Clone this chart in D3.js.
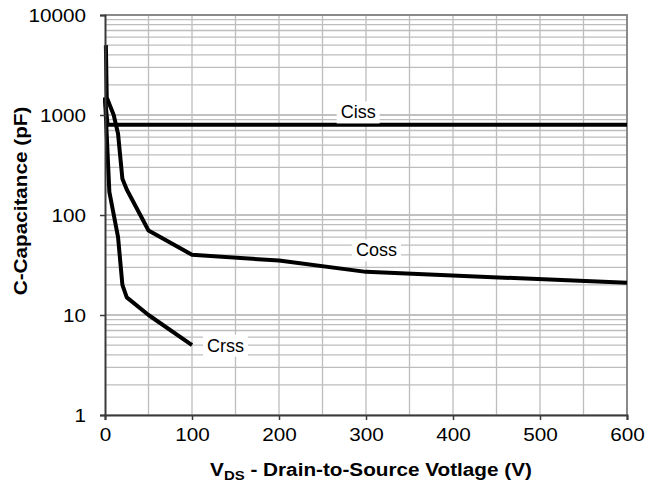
<!DOCTYPE html>
<html>
<head>
<meta charset="utf-8">
<script src="https://cdn.jsdelivr.net/npm/d3@7"></script>
<style>
  body { margin: 0; background: #fff; }
  text { font-family: "Liberation Sans", Arial, sans-serif; }
</style>
</head>
<body>
<div id="chart"></div>
<script>
(function () {
    'use strict';
    var w = 646;
    var h = 489;

    // capacitance curves, [V, pF]
    var ciss = [[0, 1450], [3, 800], [600, 800]];
    var coss = [[1, 5000], [2, 1500], [10, 1000], [15, 650], [20, 230], [25, 180],
                [50, 70], [100, 40], [200, 35], [300, 27], [600, 21]];
    var crss = [[0, 1500], [5, 170], [15, 60], [20, 20], [25, 15], [50, 10], [100, 5]];

    var seriesNames = ["Ciss", "Coss", "Crss"];
    var labelAt = [[291, 1072], [312, 44.7], [138.5, 5.0]];

    var xTicks = [0, 100, 200, 300, 400, 500, 600];
    var yTicks = [1, 10, 100, 1000, 10000];

    var margin = {top: 15, right: 19, bottom: 74, left: 105};
    var iw = w - margin.left - margin.right;
    var ih = h - margin.top - margin.bottom;

    var x = d3.scaleLinear().domain([0, 600]).range([0, iw]);
    var y = d3.scaleLog().domain([1, 10000]).range([ih, 0]);

    var svg = d3.select("#chart").append("svg")
        .attr("width", w)
        .attr("height", h);

    var g = svg.append("g")
        .attr("transform", "translate(" + margin.left + "," + margin.top + ")");

    // horizontal grid, minor 2..9 for each decade
    var yGrid = [];
    yTicks.slice(0, -1).forEach(function (d) {
        for (var k = 1; k <= 10; k++) { yGrid.push(d * k); }
    });
    g.selectAll("line.hg").data(yGrid).enter().append("line")
        .attr("class", "hg")
        .attr("x1", 0).attr("x2", iw)
        .attr("y1", function (d) { return y(d); })
        .attr("y2", function (d) { return y(d); })
        .attr("stroke", "#bdbdbd")
        .attr("stroke-width", 1.3);

    // vertical grid every 50 V
    g.selectAll("line.vg").data(d3.range(50, 601, 50)).enter().append("line")
        .attr("class", "vg")
        .attr("y1", 0).attr("y2", ih)
        .attr("x1", function (d) { return x(d); })
        .attr("x2", function (d) { return x(d); })
        .attr("stroke", "#bdbdbd")
        .attr("stroke-width", 1.3);

    // plot frame top/right
    g.append("path")
        .attr("d", "M0,0H" + iw + "V" + ih)
        .attr("fill", "none")
        .attr("stroke", "#8a8a8a")
        .attr("stroke-width", 2);

    var line = d3.line()
        .x(function (d) { return x(d[0]); })
        .y(function (d) { return y(d[1]); });

    g.selectAll("path.series").data([ciss, coss, crss]).enter().append("path")
        .attr("class", "series")
        .attr("d", line)
        .attr("fill", "none")
        .attr("stroke", "#000")
        .attr("stroke-width", 4)
        .attr("stroke-linejoin", "round");

    // axes
    var xAxis = g.append("g")
        .attr("transform", "translate(0," + ih + ")")
        .call(d3.axisBottom(x).tickValues(xTicks).tickSize(5).tickPadding(8)
            .tickFormat(d3.format("d")));
    var yAxis = g.append("g")
        .call(d3.axisLeft(y).tickValues(yTicks).tickSize(5).tickPadding(14)
            .tickFormat(d3.format("d")));

    [xAxis, yAxis].forEach(function (a) {
        a.select(".domain").attr("stroke", "#3a3a3a").attr("stroke-width", 2);
        a.selectAll(".tick line").attr("stroke", "#3a3a3a").attr("stroke-width", 1.5);
        a.selectAll(".tick text")
            .attr("fill", "#000")
            .style("font-family", "'Liberation Sans', Arial, sans-serif")
            .style("font-size", "18px");
    });
    yAxis.selectAll(".tick text").attr("dy", "0.36em");

    // series labels with white boxes
    var lab = g.selectAll("g.lab").data(seriesNames).enter().append("g")
        .attr("class", "lab")
        .attr("transform", function (d, i) {
            return "translate(" + x(labelAt[i][0]) + "," + y(labelAt[i][1]) + ")";
        });
    lab.append("rect")
        .attr("fill", "#fff");
    lab.append("text")
        .attr("text-anchor", "middle")
        .attr("dy", "0.36em")
        .style("font-size", "18px")
        .attr("fill", "#000")
        .text(function (d) { return d; });
    lab.each(function () {
        var b = d3.select(this).select("text").node().getBBox();
        d3.select(this).select("rect")
            .attr("x", b.x - 4).attr("y", b.y - 1)
            .attr("width", b.width + 8).attr("height", b.height + 2);
    });

    // axis titles
    svg.append("text")
        .attr("class", "title")
        .attr("transform", "translate(27,201) rotate(-90)")
        .attr("text-anchor", "middle")
        .style("font-size", "18px")
        .style("font-weight", "bold")
        .text("C-Capacitance (pF)");

    var xt = svg.append("text")
        .attr("class", "title")
        .attr("x", 371)
        .attr("y", 476)
        .attr("text-anchor", "middle")
        .style("font-size", "18px")
        .style("font-weight", "bold");
    xt.append("tspan").text("V");
    xt.append("tspan").attr("dy", 4).style("font-size", "13px").text("DS");
    xt.append("tspan").attr("dy", -4).text(" - Drain-to-Source Votlage (V)");

    // widen axis text a little, like the source rendering
    svg.selectAll(".tick text, text.title").each(function () {
        var n = this;
        n.setAttribute("textLength", n.getComputedTextLength() * 1.15);
        n.setAttribute("lengthAdjust", "spacingAndGlyphs");
    });
}());
</script>
</body>
</html>
